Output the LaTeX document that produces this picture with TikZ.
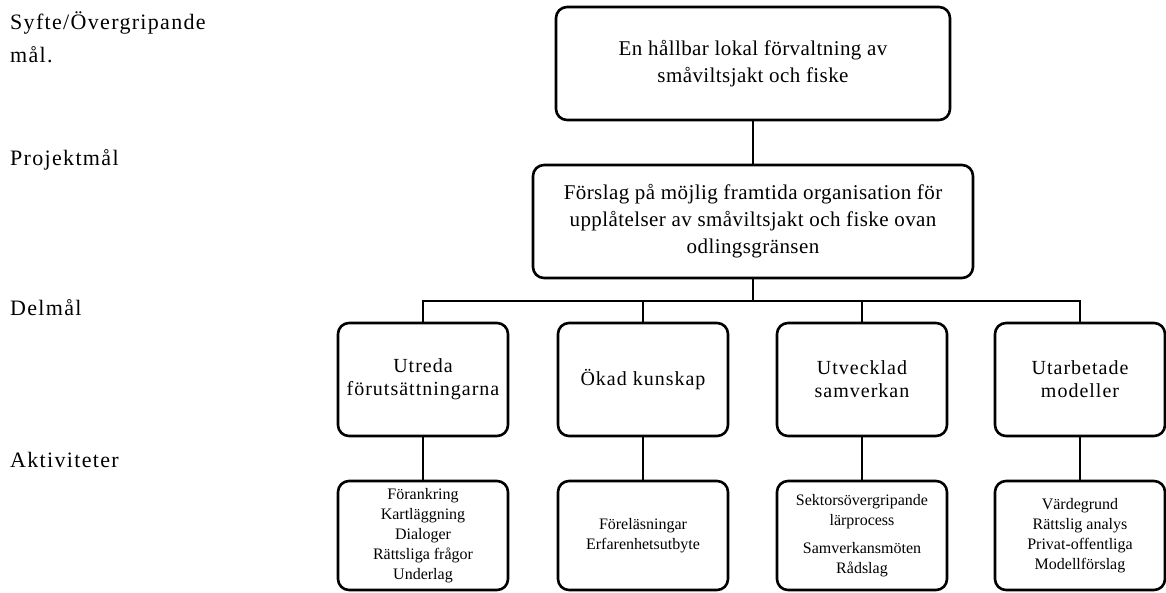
\documentclass[tikz,border=0pt]{standalone}
\usepackage{fontspec}
\setmainfont{Liberation Serif}
\newfontfamily\lsA[LetterSpace=2]{Liberation Serif}
\newfontfamily\lsB[LetterSpace=5]{Liberation Serif}
\newfontfamily\lsC[LetterSpace=6]{Liberation Serif}
\begin{document}
\begin{tikzpicture}[x=1pt,y=-1pt,
  box/.style={draw, line width=2.6pt, rounded corners=11pt, align=center, inner sep=2pt},
  topbox/.style={box, font=\lsA\fontsize{21}{27}\selectfont},
  subbox/.style={box, minimum width=170, minimum height=113, font=\lsB\fontsize{20}{23}\selectfont},
  actbox/.style={box, minimum width=170, minimum height=109, font=\fontsize{16}{20}\selectfont},
  conn/.style={line width=2pt},
  lab/.style={anchor=base west, inner sep=0pt, align=left, font=\lsC\fontsize{22}{33}\selectfont}
]
\useasboundingbox (0,0) rectangle (1166,592);

% level labels
\node[lab] (l1) at (10,62) {Syfte/Övergripande\\mål.};
\node[lab] (l2) at (10,165) {Projektmål};
\node[lab] (l3) at (10,315) {Delmål};
\node[lab] (l4) at (10,467) {Aktiviteter};

% boxes
\node[topbox, minimum width=394, minimum height=113] (b1) at (753,63.5)
  {En hållbar lokal förvaltning av\\småviltsjakt och fiske};
\node[topbox, minimum width=440, minimum height=113] (b2) at (753,221.5)
  {Förslag på möjlig framtida organisation för\\upplåtelser av småviltsjakt och fiske ovan\\odlingsgränsen};

\node[subbox] (d1) at (423,379.5) {Utreda\\förutsättningarna};
\node[subbox] (d2) at (643,379.5) {Ökad kunskap};
\node[subbox] (d3) at (862,379.5) {Utvecklad\\samverkan};
\node[subbox] (d4) at (1080,379.5) {Utarbetade\\modeller};

\node[actbox] (a1) at (423,535.5) {Förankring\\Kartläggning\\Dialoger\\Rättsliga frågor\\Underlag};
\node[actbox] (a2) at (643,535.5) {Föreläsningar\\Erfarenhetsutbyte};
\node[actbox] (a3) at (862,535.5) {Sektorsövergripande\\lärprocess\\[8pt]Samverkansmöten\\Rådslag};
\node[actbox] (a4) at (1080,535.5) {Värdegrund\\Rättslig analys\\Privat-offentliga\\Modellförslag};

% connectors
\coordinate (bus) at (753,301);
\draw[conn] (b1.south) -- (b2.north);
\draw[conn] (b2.south) -- (bus);
\draw[conn] (d1.north) -- (d1.north |- bus) -- (d4.north |- bus) -- (d4.north);
\draw[conn] (d2.north) -- (d2.north |- bus);
\draw[conn] (d3.north) -- (d3.north |- bus);
\draw[conn] (d1.south) -- (a1.north);
\draw[conn] (d2.south) -- (a2.north);
\draw[conn] (d3.south) -- (a3.north);
\draw[conn] (d4.south) -- (a4.north);
\end{tikzpicture}
\end{document}
